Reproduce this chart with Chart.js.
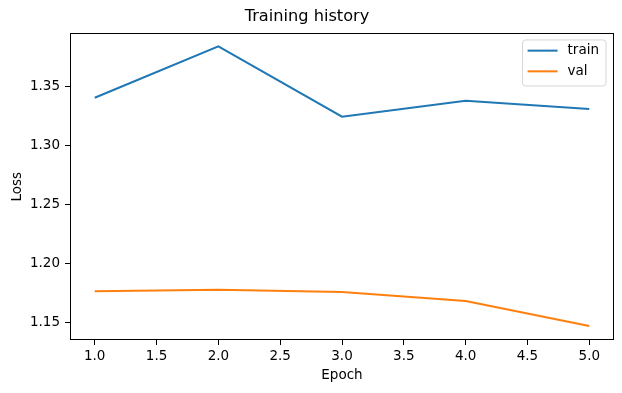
<!DOCTYPE html>
<html>
<head>
<meta charset="utf-8">
<script src="https://cdn.jsdelivr.net/npm/chart.js@4"></script>
<style>
html,body{margin:0;padding:0;background:#fff;}
#wrap{width:622px;height:393px;}
</style>
</head>
<body>
<div id="wrap"><canvas id="c" width="622" height="393"></canvas></div>
<script>
const epochs = [1, 2, 3, 4, 5];
const trainLoss = [1.3401, 1.3835, 1.3241, 1.3376, 1.3306];
const valLoss = [1.1764, 1.1776, 1.1758, 1.1682, 1.1471];
const seriesNames = ['train', 'val'];
const chartTitle = 'Training history';
const xTitle = 'Epoch';
const yTitle = 'Loss';

const FONT = 'DejaVu Sans';
Chart.defaults.font.family = FONT;
Chart.defaults.color = '#000';

const frameAndLegend = {
  id: 'frameAndLegend',
  afterDraw(chart) {
    const ctx = chart.ctx;
    const a = chart.chartArea;
    ctx.save();
    ctx.strokeStyle = '#000';
    ctx.lineWidth = 1;
    ctx.strokeRect(Math.round(a.left) + 0.5, Math.round(a.top) + 0.5,
                   Math.round(a.right - a.left) - 1, Math.round(a.bottom - a.top) - 1);
    ctx.font = '13.5px "' + FONT + '"';
    const ds = chart.data.datasets;
    let maxW = 0;
    ds.forEach(d => { maxW = Math.max(maxW, ctx.measureText(d.label).width); });
    const w = 45 + maxW + 7;
    const h = 46;
    const x0 = a.right - 8 - w;
    const y0 = a.top + 6.5;
    const r = 3;
    ctx.beginPath();
    ctx.moveTo(x0 + r, y0);
    ctx.lineTo(x0 + w - r, y0);
    ctx.arcTo(x0 + w, y0, x0 + w, y0 + r, r);
    ctx.lineTo(x0 + w, y0 + h - r);
    ctx.arcTo(x0 + w, y0 + h, x0 + w - r, y0 + h, r);
    ctx.lineTo(x0 + r, y0 + h);
    ctx.arcTo(x0, y0 + h, x0, y0 + h - r, r);
    ctx.lineTo(x0, y0 + r);
    ctx.arcTo(x0, y0, x0 + r, y0, r);
    ctx.closePath();
    ctx.fillStyle = 'rgba(255,255,255,0.8)';
    ctx.fill();
    ctx.strokeStyle = '#d6d6d6';
    ctx.lineWidth = 1;
    ctx.stroke();
    ds.forEach((d, i) => {
      const yy = y0 + 10.7 + i * 20.7;
      ctx.beginPath();
      ctx.strokeStyle = d.borderColor;
      ctx.lineWidth = 2;
      ctx.moveTo(x0 + 5, yy);
      ctx.lineTo(x0 + 35, yy);
      ctx.stroke();
      ctx.fillStyle = '#000';
      ctx.textBaseline = 'middle';
      ctx.textAlign = 'left';
      ctx.fillText(d.label, x0 + 45, yy);
    });
    ctx.restore();
  }
};

new Chart(document.getElementById('c'), {
  type: 'line',
  data: {
    datasets: [
      {
        label: seriesNames[0],
        data: epochs.map((e, i) => ({x: e, y: trainLoss[i]})),
        borderColor: '#1f77b4',
        backgroundColor: '#1f77b4',
        borderWidth: 2,
        pointRadius: 0,
        tension: 0
      },
      {
        label: seriesNames[1],
        data: epochs.map((e, i) => ({x: e, y: valLoss[i]})),
        borderColor: '#ff7f0e',
        backgroundColor: '#ff7f0e',
        borderWidth: 2,
        pointRadius: 0,
        tension: 0
      }
    ]
  },
  options: {
    responsive: false,
    animation: false,
    layout: {padding: {left: 0, right: 8, top: 0, bottom: 0}},
    plugins: {
      legend: {display: false},
      tooltip: {enabled: false},
      title: {
        display: true,
        text: chartTitle,
        color: '#000',
        font: {size: 16.2, weight: 'normal', family: FONT},
        padding: {top: 7, bottom: 7}
      }
    },
    scales: {
      x: {
        type: 'linear',
        min: 0.8,
        max: 5.2,
        afterFit(s) { s.height = 53; },
        border: {display: false},
        grid: {display: true, drawOnChartArea: false, drawTicks: true, tickLength: 5, color: '#000', tickColor: '#000'},
        ticks: {
          stepSize: 0.5,
          includeBounds: false,
          padding: 3,
          maxRotation: 0,
          autoSkip: false,
          color: '#000',
          font: {size: 13.5},
          callback: v => Number(v).toFixed(1)
        },
        title: {display: true, text: xTitle, color: '#000', font: {size: 13.5}, padding: {top: 0, bottom: 9}}
      },
      y: {
        type: 'linear',
        min: 1.1352,
        max: 1.3945,
        afterFit(s) { s.width = 70; },
        border: {display: false},
        grid: {display: true, drawOnChartArea: false, drawTicks: true, tickLength: 5, color: '#000', tickColor: '#000'},
        ticks: {
          stepSize: 0.05,
          includeBounds: false,
          padding: 5,
          autoSkip: false,
          color: '#000',
          font: {size: 13.5},
          callback: v => Number(v).toFixed(2)
        },
        title: {display: true, text: yTitle, color: '#000', font: {size: 13.5}, padding: {top: 9, bottom: 0}}
      }
    }
  },
  plugins: [frameAndLegend]
});
</script>
</body>
</html>
